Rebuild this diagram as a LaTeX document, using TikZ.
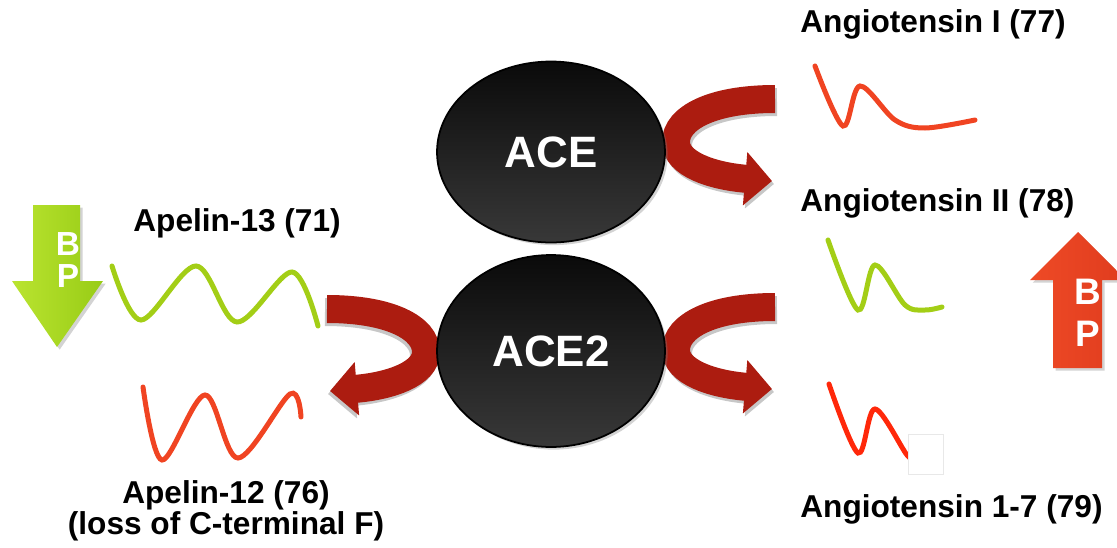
\documentclass[tikz,border=0pt]{standalone}
\usepackage{fontspec}
\setmainfont{Liberation Sans}
\usetikzlibrary{shapes.geometric,arrows.meta,shadows}

\definecolor{arrowred}{RGB}{172,28,16}
\definecolor{limegreen}{RGB}{163,206,22}
\definecolor{peptidered}{RGB}{240,68,34}
\definecolor{brightred}{RGB}{255,40,10}

\tikzset{
  enzyme/.style={ellipse, draw=black, line width=1pt, inner sep=0pt,
    top color=black!96, bottom color=black!78, minimum width=4.56cm,
    text=white, font=\fontsize{25}{29}\selectfont\bfseries,
    drop shadow={opacity=0.35, shadow xshift=1.5pt, shadow yshift=-1.5pt}},
  peptide/.style={font=\fontsize{18}{22}\selectfont\bfseries, inner sep=0pt, anchor=base west},
  wave/.style={line width=0.1cm, line cap=round, smooth, tension=0.55},
  bpletter/.style={text=white, font=\fontsize{19}{22}\selectfont\bfseries, inner sep=0pt},
  % curved red arrow, starts at its upper free end
  turnarrow/.pic={
    \foreach \dx/\dy/\c in {2/3/black!22, 0/0/arrowred}
      \draw[line width=0.56cm, \c, shift={(\dx,\dy)}, -{Triangle[width=1.04cm, length=0.54cm]}]
        (0,0) .. controls (-63,0) and (-99,19) .. (-99,43)
        .. controls (-99,65) and (-63,77) .. (-3,82);
  }
}

\begin{document}
\begin{tikzpicture}[x=0.02cm, y=-0.02cm]
\useasboundingbox (0,0) rectangle (1117,548);

% peptides
\draw[wave, limegreen] plot coordinates {(112,266) (141,320) (196,266) (237,322) (292,272) (318,326)};
\draw[wave, peptidered] plot coordinates {(143,387) (162,460) (205,395) (238,458) (290,394) (301,417)};
\draw[wave, peptidered] plot coordinates {(815,66) (843,126) (860,86) (895,120) (925,128) (975,120)};
\draw[wave, limegreen] plot coordinates {(828,240) (858,310) (875,265) (905,305) (925,310) (942,307)};
\draw[wave, brightred] plot coordinates {(829,384) (858,453) (875,409) (907,455) (915,458)};
\draw[black!9, fill=white, line width=0.4pt] (908,434) rectangle (943,474);

% cleavage arrows, behind the enzymes
\pic at (775,99) {turnarrow};
\pic at (775,307) {turnarrow};
\pic[xscale=-1] at (327,309) {turnarrow};

% enzymes
\node[enzyme, minimum height=3.62cm] (ace) at (551,152) {ACE};
\node[enzyme, minimum height=3.84cm] (acetwo) at (551,351) {ACE2};

% names
\node[peptide] (angI) at (800,32) {Angiotensin I (77)};
\node[peptide] (angII) at (800,211) {Angiotensin II (78)};
\node[peptide] (angonetoseven) at (800,517) {Angiotensin 1-7 (79)};
\node[peptide] (apelinthirteen) at (133,231) {Apelin-13 (71)};
\node[peptide, anchor=base] (apelintwelve) at (226,503) {Apelin-12 (76)};
\node[peptide, anchor=base] (apelinnote) at (226,534) {(loss of C-terminal F)};

% blood pressure arrows
\path[left color={rgb,255:red,186;green,228;blue,48}, right color={rgb,255:red,152;green,204;blue,22},
  drop shadow={opacity=0.35, shadow xshift=1.5pt, shadow yshift=-1.5pt}]
  (33,205) -- (80,205) -- (80,281) -- (103,281) -- (57,347) -- (12,281) -- (33,281) -- cycle;
\node[bpletter] (downB) at (68,244) {B};
\node[bpletter] (downP) at (68,276) {P};

\path[left color={rgb,255:red,238;green,74;blue,38}, right color={rgb,255:red,224;green,60;blue,30},
  drop shadow={opacity=0.35, shadow xshift=1.5pt, shadow yshift=-1.5pt}]
  (1053,368) -- (1102,368) -- (1102,280) -- (1126,280) -- (1078,232) -- (1030,280) -- (1053,280) -- cycle;
\node[bpletter, font=\fontsize{21}{24}\selectfont\bfseries] (upB) at (1088,292) {B};
\node[bpletter, font=\fontsize{21}{24}\selectfont\bfseries] (upP) at (1088,334) {P};
\end{tikzpicture}
\end{document}
